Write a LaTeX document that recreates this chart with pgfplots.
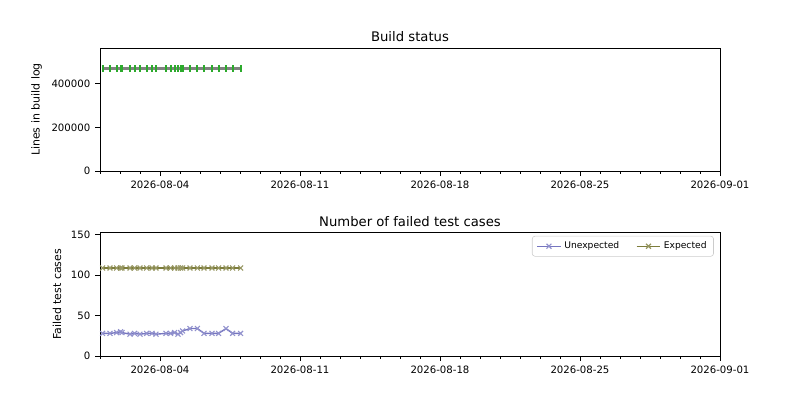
\documentclass[border=0pt]{standalone}
\usepackage{fontspec}
\setmainfont{DejaVu Sans}
\usepackage{pgfplots}
\usepackage{pgfplotstable}
\pgfplotsset{compat=1.18}
\definecolor{unexp}{RGB}{118,118,192}
\definecolor{expc}{RGB}{125,125,60}
\definecolor{tabgreen}{RGB}{44,170,44}
\pgfplotstableread{
day lines unexp expc
0.13 470000 28 109
0.50 470000 28 109
0.83 470000 29 109
1.03 470000 30 109
1.10 470000 29 109
1.50 470000 27 109
1.73 470000 28 109
2.00 470000 27 109
2.33 470000 28 109
2.60 470000 28 109
2.80 470000 27 109
3.30 470000 28 109
3.53 470000 28 109
3.73 470000 29 109
3.90 470000 27 109
4.03 470000 29 109
4.13 470000 31 109
4.50 470000 34 109
4.87 470000 34 109
5.20 470000 28 109
5.60 470000 28 109
5.93 470000 28 109
6.30 470000 34 109
6.63 470000 28 109
7.03 470000 28 109
}\datatable
\begin{document}
\begin{tikzpicture}
\useasboundingbox (0,0) rectangle (576pt,288pt);
\pgfplotsset{
 common/.style={
  scale only axis, width=446.4pt, height=88.7pt, anchor=south west,
  xmin=0, xmax=31, xtick={3,10,17,24,31},
  xticklabels={2026-08-04,2026-08-11,2026-08-18,2026-08-25,2026-09-01},
  minor xtick={0,...,31},
  tick align=outside, tick pos=left,
  major tick length=3.5pt, minor tick length=2pt,
  every tick/.style={black, line width=0.6pt},
  tick label style={font=\fontsize{7.3}{9}\selectfont},
  label style={font=\fontsize{7.9}{9.5}\selectfont},
  every axis title/.style={at={(0.5,1)}, anchor=base, yshift=4.4pt,
    font=\fontsize{9.5}{11}\selectfont},
  /pgf/number format/assume math mode=true,
  /pgf/number format/fixed, /pgf/number format/1000 sep={},
  scaled y ticks=false,
  axis line style={line width=0.6pt},
 }
}
\begin{axis}[common, at={(72pt,164.74pt)},
  ymin=0, ymax=564000, ytick={0,200000,400000},
  ylabel={Lines in build log}, title={Build status}]
\addplot[gray, line width=1.5pt, mark=|, mark size=2.5pt,
  mark options={tabgreen, line width=1.4pt}] table[x=day, y=lines] {\datatable};
\end{axis}
\begin{axis}[common, at={(72pt,31.68pt)},
  ymin=0, ymax=152.6, ytick={0,50,100,150},
  ylabel={Failed test cases}, title={Number of failed test cases},
  legend columns=2,
  legend style={at={(0.99,0.975)}, anchor=north east,
    font=\fontsize{6.6}{8}\selectfont, draw=black!20, rounded corners=2pt,
    /tikz/every even column/.append style={column sep=10pt}}]
\addplot[unexp, line width=1pt, mark=x, mark size=2.5pt,
  mark options={unexp!80, line width=0.8pt}] table[x=day, y=unexp] {\datatable};
\addlegendentry{Unexpected}
\addplot[expc, line width=1pt, mark=x, mark size=2.5pt,
  mark options={expc!80, line width=0.8pt}] table[x=day, y=expc] {\datatable};
\addlegendentry{Expected}
\end{axis}
\end{tikzpicture}
\end{document}
